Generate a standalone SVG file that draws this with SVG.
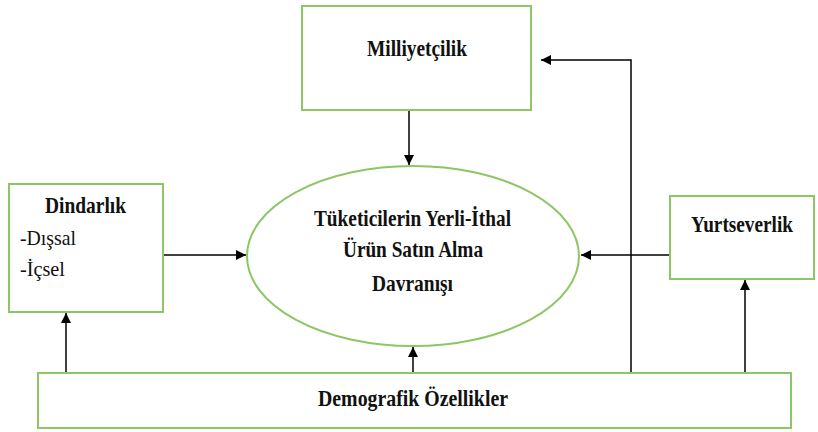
<svg xmlns="http://www.w3.org/2000/svg" width="818" height="432" viewBox="0 0 818 432">
<style>
.box{fill:#fff;stroke:#8cc665;stroke-width:2}
.ln{fill:none;stroke:#000;stroke-width:1.5}
.b{font-family:"Liberation Serif","Times New Roman",serif;font-weight:bold;font-size:24px;fill:#111}
.r{font-family:"Liberation Serif","Times New Roman",serif;font-size:22px;fill:#111}
</style>
<defs>
<marker id="ah" viewBox="0 0 10 10" refX="10" refY="5" markerWidth="10" markerHeight="10" markerUnits="userSpaceOnUse" orient="auto">
<path d="M0,0 L10,5 L0,10 Z" fill="#000"/>
</marker>
</defs>
<rect width="818" height="432" fill="#fff"/>
<g id="connectors">
<line class="ln" x1="409" y1="110" x2="409" y2="165" marker-end="url(#ah)"/>
<polyline class="ln" points="631,373 631,60 541,60" marker-end="url(#ah)"/>
<line class="ln" x1="163" y1="255" x2="246" y2="255" marker-end="url(#ah)"/>
<line class="ln" x1="670" y1="255" x2="581" y2="255" marker-end="url(#ah)"/>
<line class="ln" x1="66" y1="373" x2="66" y2="313" marker-end="url(#ah)"/>
<line class="ln" x1="413" y1="373" x2="413" y2="347" marker-end="url(#ah)"/>
<line class="ln" x1="745" y1="373" x2="745" y2="280" marker-end="url(#ah)"/>
</g>
<g id="milliyetcilik">
<rect class="box" x="302" y="6" width="229" height="104"/>
<text class="b" x="367" y="56" textLength="100" lengthAdjust="spacingAndGlyphs">Milliyetçilik</text>
</g>
<g id="dindarlik">
<rect class="box" x="9" y="184" width="154" height="128"/>
<text class="b" x="45" y="213" textLength="81" lengthAdjust="spacingAndGlyphs">Dindarlık</text>
<text class="r" x="20" y="245" textLength="56" lengthAdjust="spacingAndGlyphs">-Dışsal</text>
<text class="r" x="20" y="276" textLength="45" lengthAdjust="spacingAndGlyphs">-İçsel</text>
</g>
<g id="davranis">
<ellipse cx="413" cy="256" rx="166" ry="90" fill="#fff" stroke="#8cc665" stroke-width="2"/>
<text class="b" x="314" y="226" textLength="197" lengthAdjust="spacingAndGlyphs">Tüketicilerin Yerli-İthal</text>
<text class="b" x="343" y="257" textLength="140" lengthAdjust="spacingAndGlyphs">Ürün Satın Alma</text>
<text class="b" x="372" y="291" textLength="81" lengthAdjust="spacingAndGlyphs">Davranışı</text>
</g>
<g id="yurtseverlik">
<rect class="box" x="670" y="196" width="144" height="83"/>
<text class="b" x="742" y="232" text-anchor="middle" textLength="102" lengthAdjust="spacingAndGlyphs">Yurtseverlik</text>
</g>
<g id="demografik">
<rect class="box" x="38" y="373" width="753" height="55"/>
<text class="b" x="318" y="406" textLength="190" lengthAdjust="spacingAndGlyphs">Demografik Özellikler</text>
</g>
</svg>
